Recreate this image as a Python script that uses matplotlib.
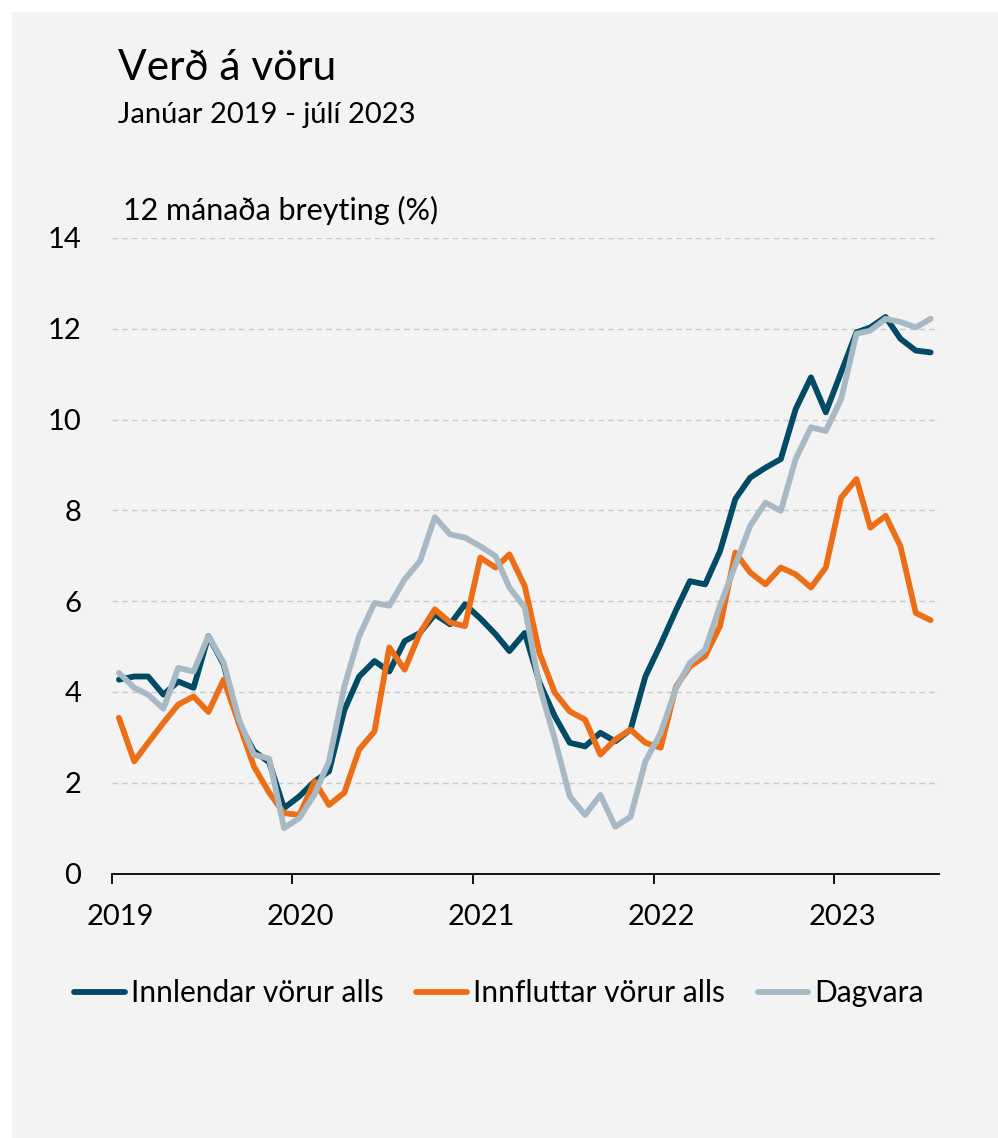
import matplotlib
matplotlib.use("Agg")
import matplotlib.pyplot as plt
import matplotlib.dates as mdates
import matplotlib.transforms as mtransforms
from matplotlib.patches import Rectangle
import pandas as pd

plt.rcParams["font.family"] = ["Lato", "DejaVu Sans"]

# monthly observations, Jan 2019 - Jul 2023 (plotted mid-month)
months = pd.date_range("2019-01-01", periods=55, freq="MS") + pd.Timedelta(days=14)

innlendar = [
    4.27, 4.34, 4.34, 3.94, 4.23, 4.09, 5.23, 4.60, 3.30, 2.70, 2.45, 1.44,
    1.70, 2.03, 2.25, 3.60, 4.34, 4.68, 4.45, 5.12, 5.30, 5.71, 5.49, 5.93,
    5.62, 5.27, 4.90, 5.30, 4.20, 3.46, 2.88, 2.80, 3.10, 2.91, 3.17, 4.34,
    5.05, 5.80, 6.44, 6.37, 7.10, 8.25, 8.72, 8.94, 9.13, 10.23, 10.93, 10.16,
    11.04, 11.92, 12.03, 12.26, 11.78, 11.52, 11.48,
]
innfluttar = [
    3.43, 2.47, 2.88, 3.32, 3.72, 3.90, 3.56, 4.27, 3.30, 2.36, 1.78, 1.33,
    1.29, 2.03, 1.51, 1.78, 2.73, 3.13, 4.98, 4.49, 5.30, 5.82, 5.53, 5.45,
    6.96, 6.74, 7.03, 6.33, 4.85, 3.98, 3.57, 3.39, 2.62, 2.95, 3.17, 2.88,
    2.77, 4.12, 4.56, 4.79, 5.45, 7.07, 6.63, 6.37, 6.74, 6.59, 6.30, 6.74,
    8.28, 8.69, 7.62, 7.88, 7.21, 5.74, 5.58,
]
dagvara = [
    4.42, 4.09, 3.94, 3.63, 4.53, 4.45, 5.23, 4.64, 3.39, 2.62, 2.53, 1.00,
    1.22, 1.75, 2.47, 4.12, 5.23, 5.96, 5.90, 6.48, 6.88, 7.85, 7.47, 7.40,
    7.21, 6.99, 6.30, 5.86, 4.12, 2.95, 1.70, 1.29, 1.73, 1.03, 1.25, 2.47,
    3.10, 4.08, 4.64, 4.93, 5.90, 6.80, 7.66, 8.17, 7.99, 9.13, 9.83, 9.75,
    10.45, 11.89, 11.96, 12.22, 12.15, 12.03, 12.22,
]
series = [
    ("Innlendar vörur alls", innlendar, "#024B65"),
    ("Innfluttar vörur alls", innfluttar, "#EC6F17"),
    ("Dagvara", dagvara, "#A7B9C5"),
]
year_ticks = pd.date_range("2019-01-01", "2023-01-01", freq="YS")

W, H = 998, 1138
fig = plt.figure(figsize=(W / 100, H / 100), dpi=100, facecolor="white")
fig.patches.append(Rectangle((12 / W, 0), 1 - 12 / W, 1 - 12 / H,
                             transform=fig.transFigure, facecolor="#F3F3F3",
                             edgecolor="none", zorder=-10))

ax = fig.add_axes([112 / W, 1 - 873.5 / H, (939 - 112) / W, (873.5 - 238) / H])
ax.set_facecolor("none")
ax.set_zorder(1)

for name, vals, col in series:
    ax.plot(months, vals, color=col, lw=4.2, label=name,
            solid_joinstyle="round", solid_capstyle="round")

ax.set_ylim(0, 14)
ax.set_yticks(range(0, 15, 2))
ax.set_xlim(pd.Timestamp("2019-01-01"), pd.Timestamp("2023-08-01"))
ax.set_xticks(year_ticks)
ax.xaxis.set_major_formatter(mdates.DateFormatter("%Y"))
ax.grid(axis="y", color="#C9C9C9", ls=(0, (4, 3)), lw=1)
ax.set_axisbelow(True)
for s in ("top", "right", "left"):
    ax.spines[s].set_visible(False)
ax.spines["bottom"].set_color("black")
ax.spines["bottom"].set_linewidth(1.3)
ax.tick_params(axis="y", length=0, pad=22, labelsize=21)
ax.tick_params(axis="x", length=7, width=1.3, pad=15, labelsize=21)
shift = mtransforms.ScaledTranslation(8 / 100, 0, fig.dpi_scale_trans)
for lab in ax.get_xticklabels():
    lab.set_transform(lab.get_transform() + shift)

fig.text(118 / W, 1 - 80 / H, "Verð á vöru", fontsize=30.5, va="baseline")
fig.text(118 / W, 1 - 123 / H, "Janúar 2019 - júlí 2023", fontsize=21, va="baseline")
fig.text(123 / W, 1 - 220 / H, "12 mánaða breyting (%)", fontsize=22, va="baseline")

fig.legend(loc="center", bbox_to_anchor=(0.5, 1 - 993 / H), ncol=3, frameon=False,
           fontsize=21.5, handlelength=1.7, handletextpad=0.2, columnspacing=1.1)

fig.savefig("out.png", dpi=100, facecolor=fig.get_facecolor())
